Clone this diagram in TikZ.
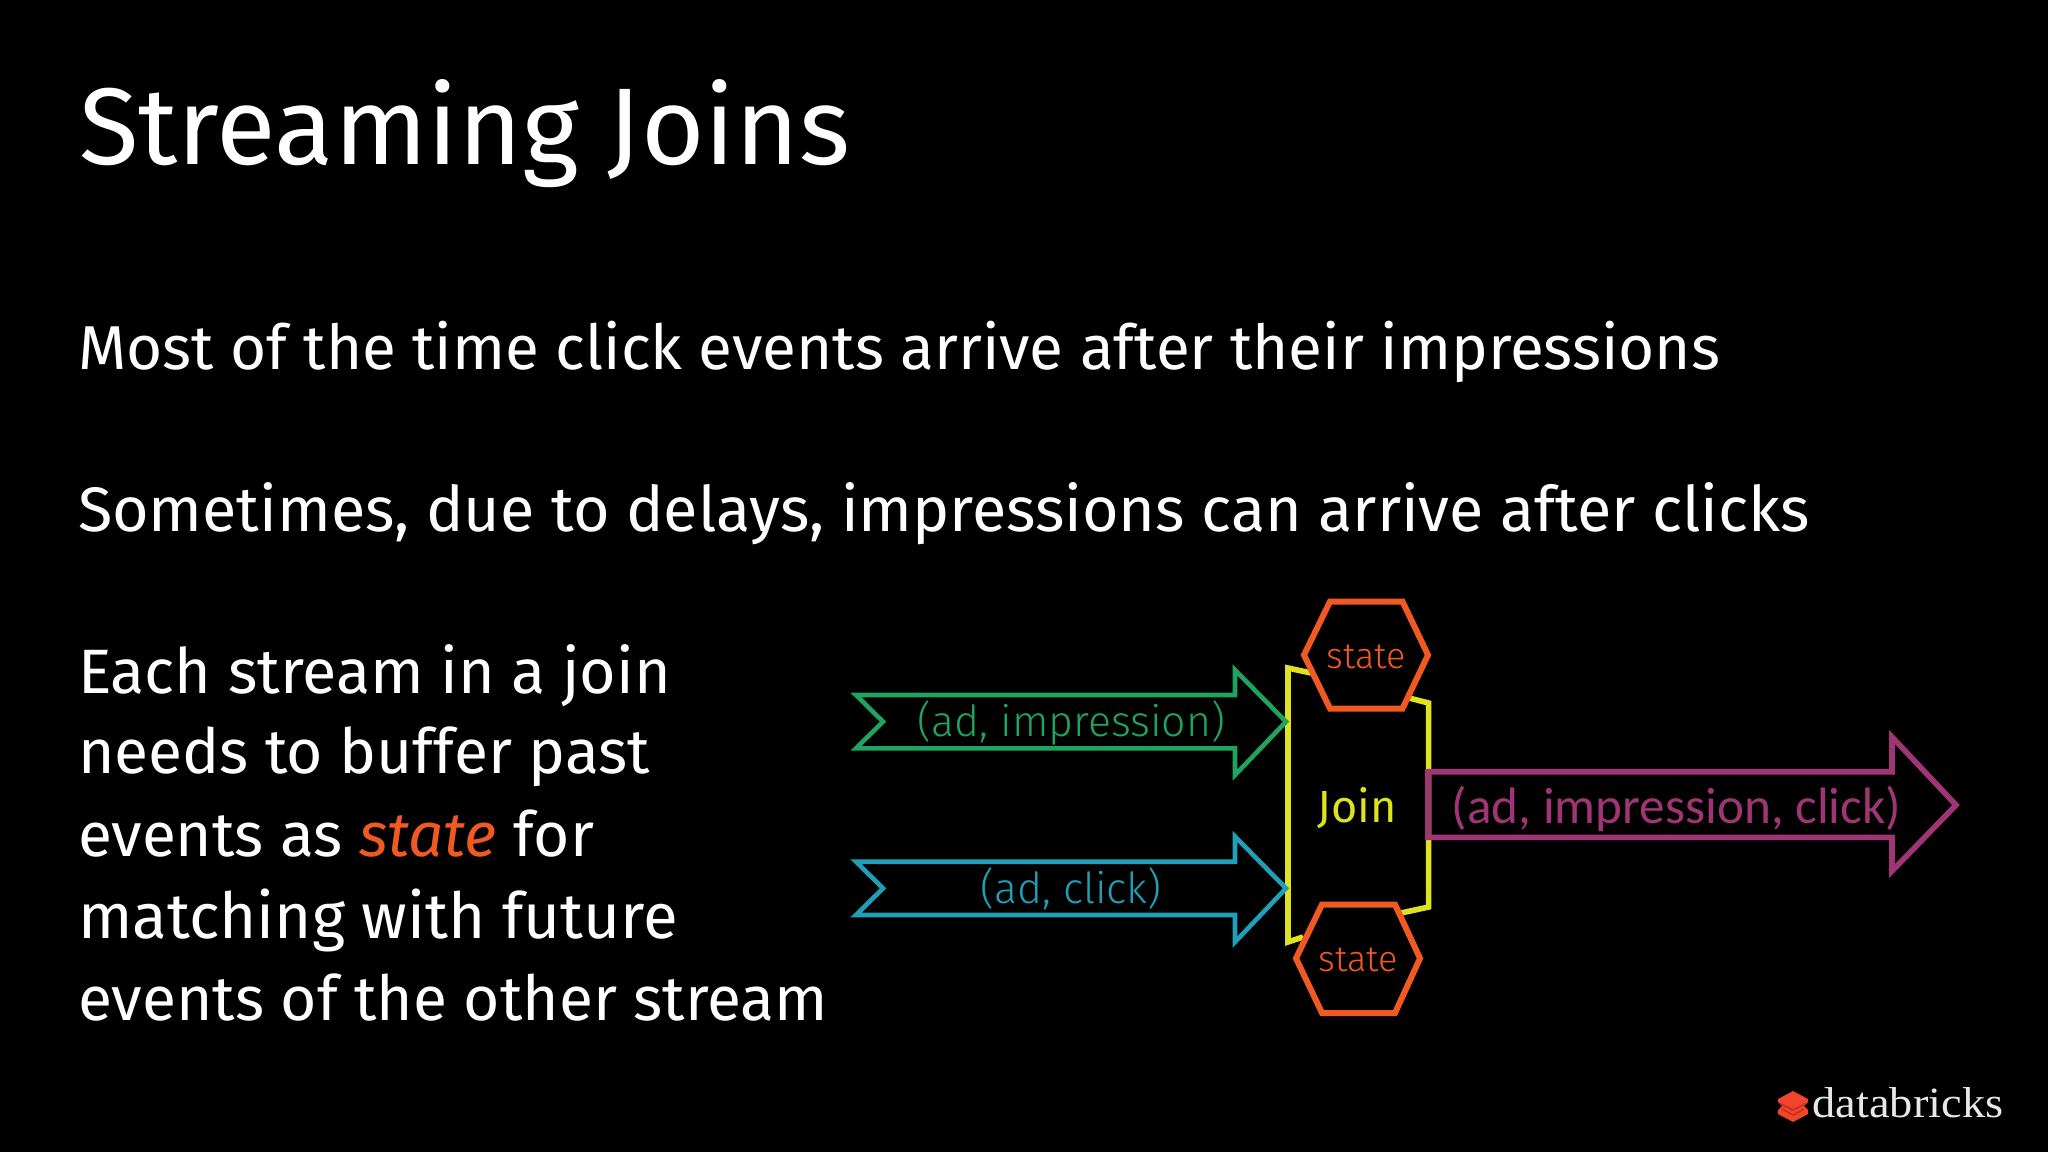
\documentclass[tikz,border=0pt]{standalone}
\usepackage{fontspec}
\setmainfont{Fira Sans}
\newfontfamily\thinfont{Fira Sans Light}
\newfontfamily\logofont{Liberation Serif}
\newfontfamily\magfont{Carlito}
\definecolor{cgreen}{HTML}{1FA35F}
\definecolor{cblue}{HTML}{1F9FB8}
\definecolor{cyellow}{HTML}{DDE221}
\definecolor{corange}{HTML}{F05A22}
\definecolor{cmag}{HTML}{A03575}
\definecolor{clogo}{HTML}{E8E8E8}
\definecolor{cred}{HTML}{F0442C}
\definecolor{cseam}{HTML}{C22E1E}
\tikzset{
 txt/.style={anchor=base west,inner sep=0pt,outer sep=0pt,text=white},
 lab/.style={anchor=base,inner sep=0pt,outer sep=0pt},
 flow/.style={line width=2.3pt,miter limit=10,line join=miter},
 bigflow/.style={line width=2.8pt,miter limit=10,line join=miter},
 hex/.style={line width=3pt,draw=corange,line join=miter},
 joinline/.style={cyellow,line width=2.8pt,line join=miter},
}
\newcommand{\bodysize}[1]{\fontsize{#1}{36}\selectfont}
\begin{document}
\begin{tikzpicture}[x=0.5pt,y=-0.5pt]
\path[use as bounding box,fill=black] (0,0) rectangle (2048,1152);
\node[txt] (title) at (79,164) {\fontsize{54.5}{60}\selectfont Streaming Joins};
\node[txt] (l1) at (78,369) {\bodysize{31}Most of the time click events arrive after their impressions};
\node[txt] (l2) at (78,531) {\bodysize{31.4}Sometimes, due to delays, impressions can arrive after clicks};
\node[txt] (p1) at (78,693) {\bodysize{31.35}Each stream in a join};
\node[txt] (p2) at (78,773) {\bodysize{31.15}needs to buffer past};
\node[txt] (p3) at (78,856) {\bodysize{31.1}events as \textcolor{corange}{\itshape state} for};
\node[txt] (p4) at (78,938) {\bodysize{31.8}matching with future};
\node[txt] (p5) at (78,1020) {\bodysize{31.15}events of the other stream};
% join outline
\draw[joinline] (1311,673) -- (1288,668) -- (1288,942) -- (1303,937);
\draw[joinline] (1409,698) -- (1428.6,703) -- (1428.6,907) -- (1401,913);
\node[lab,text=cyellow] (join) at (1357,822) {\fontsize{22.5}{24}\selectfont Join};
% stream arrows
\draw[flow,cgreen] (856,695) -- (883,721.7) -- (856,748.3) -- (1235,748.3) -- (1235,775) -- (1286,721.7) -- (1235,670) -- (1235,695) -- cycle;
\draw[flow,cblue] (856,861.7) -- (883,888.3) -- (856,915) -- (1235,915) -- (1235,942) -- (1286,888.3) -- (1235,836.5) -- (1235,861.7) -- cycle;
\node[lab,text=cgreen] (imp) at (1071.5,736) {\thinfont\fontsize{21.4}{24}\selectfont (ad, impression)};
\node[lab,text=cblue] (clk) at (1071,903) {\thinfont\fontsize{21.4}{24}\selectfont (ad, click)};
% output arrow
\draw[bigflow,cmag] (1428,771.7) -- (1892,771.7) -- (1892,737) -- (1956,805) -- (1892,871) -- (1892,837.3) -- (1428,837.3) -- cycle;
\node[lab,text=cmag] (out) at (1676.5,823) {\magfont\fontsize{25.6}{28}\selectfont (ad, impression, click)};
% state hexagons
\draw[hex] (1330,601.5) -- (1402.5,601.5) -- (1428,655) -- (1402.5,708.5) -- (1330,708.5) -- (1304,655) -- cycle;
\draw[hex] (1322,904.5) -- (1395,904.5) -- (1420,958.3) -- (1395,1013) -- (1322,1013) -- (1296,958.3) -- cycle;
\node[lab,text=corange] (s1) at (1366,668) {\thinfont\fontsize{18}{20}\selectfont state};
\node[lab,text=corange] (s2) at (1358,971.7) {\thinfont\fontsize{18}{20}\selectfont state};
% logo
\fill[cred] (1793,1091) -- (1808,1099) -- (1808,1102) -- (1804,1106) -- (1808,1110) -- (1808,1114) -- (1793,1122) -- (1778,1114) -- (1778,1110) -- (1782,1106) -- (1778,1102) -- (1778,1099) -- cycle;
\draw[cseam,line width=0.7pt] (1780,1103.5) -- (1793,1110) -- (1806,1103.5);
\draw[cseam,line width=0.7pt] (1782,1109) -- (1793,1115) -- (1804,1109);
\node[anchor=base west,inner sep=0pt,text=clogo] (logo) at (1812,1117) {\logofont\fontsize{21.6}{24}\selectfont\scalebox{1.075}[1]{databricks}};
\end{tikzpicture}
\end{document}
